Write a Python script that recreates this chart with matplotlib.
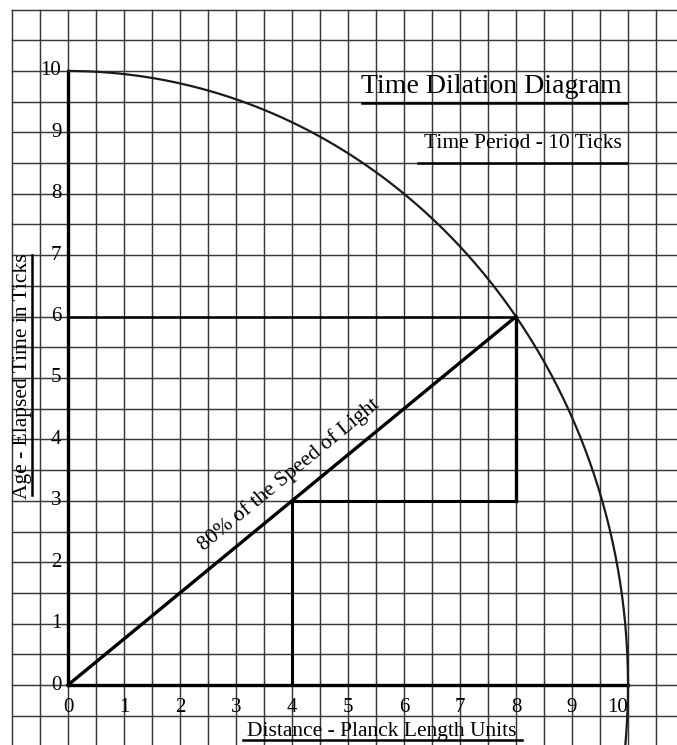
import numpy as np
import matplotlib
matplotlib.use("Agg")
import matplotlib.pyplot as plt

plt.rcParams['font.family'] = ['Liberation Serif', 'DejaVu Serif']

# data
x_ticks = [0, 1, 2, 3, 4, 5, 6, 7, 8, 9, 10]
y_ticks = [0, 1, 2, 3, 4, 5, 6, 7, 8, 9, 10]
radius = 10
speed_pt = (8, 6)      # 80% of light speed after 10 ticks
half_pt = (4, 3)       # half way
title = "Time Dilation Diagram"
subtitle = "Time Period - 10 Ticks"
xlabel = "Distance - Planck Length Units"
ylabel = "Age - Elapsed Time in Ticks"
diag_label = "80% of the Speed of Light"

fig = plt.figure(figsize=(6.77, 7.45), dpi=100)
ax = fig.add_axes([0, 0, 1, 1])
ax.set_xlim(-1.214, 10.875)
ax.set_ylim(-0.977, 11.156)
ax.axis('off')

grid_col = '#383838'
# graph paper grid, every half unit
for gx in np.arange(-1, 10.75, 0.5):
    ax.plot([gx, gx], [-1.2, 11], color=grid_col, lw=1.05, zorder=1)
for gy in np.arange(-1, 11.25, 0.5):
    ax.plot([-1, 11], [gy, gy], color=grid_col, lw=1.05, zorder=1)

# axes
ax.plot([0, 0], [0, 10], color='black', lw=2.4, zorder=3)
ax.plot([0, 10], [0, 0], color='black', lw=2.4, zorder=3)

# arc of radius 10 (continues down past the x axis)
t = np.linspace(np.arcsin(-1.2 / radius), np.pi / 2, 300)
ax.plot(radius * np.cos(t), radius * np.sin(t), color='#1a1a1a', lw=1.6, zorder=3)

sx, sy = speed_pt
hx, hy = half_pt
ax.plot([0, sx], [0, sy], color='black', lw=2.4, zorder=3)
ax.plot([0, sx], [sy, sy], color='black', lw=1.8, zorder=3)
ax.plot([sx, sx], [sy, hy], color='black', lw=2.4, zorder=3)
ax.plot([hx, sx], [hy, hy], color='black', lw=2.2, zorder=3)
ax.plot([hx, hx], [hy, 0], color='black', lw=2.2, zorder=3)

# tick labels
for v in y_ticks:
    ax.text(-0.12, v, str(v), ha='right', va='center', fontsize=15, zorder=4)
for v in x_ticks:
    ax.text(v, -0.36, str(v), ha='right' if v == x_ticks[-1] else 'center',
            va='center', fontsize=15, zorder=4)

# diagonal label
ang = np.degrees(np.arctan2(sy, sx))
ax.text(3.95, 3.42, diag_label, rotation=ang, transform_rotates_text=True,
        rotation_mode='anchor', ha='center', va='center', fontsize=15.5, zorder=4)

# titles with underlines
ax.text(9.89, 9.64, title, ha='right', va='baseline', fontsize=20, zorder=4)
ax.plot([5.25, 9.98], [9.48, 9.48], color='black', lw=1.8, zorder=3)
ax.text(9.89, 8.75, subtitle, ha='right', va='baseline', fontsize=15.5, zorder=4)
ax.plot([6.25, 9.98], [8.5, 8.5], color='black', lw=1.8, zorder=3)

# axis labels with underlines
ax.text(3.2, -0.83, xlabel, ha='left', va='baseline', fontsize=15.5, zorder=4)
ax.plot([3.125, 8.1], [-0.896, -0.896], color='black', lw=1.8, zorder=3)
ax.text(-0.73, 5.03, ylabel, rotation=90, ha='center', va='baseline',
        rotation_mode='anchor', fontsize=15.5, zorder=4)
ax.plot([-0.643, -0.643], [3.09, 7.0], color='black', lw=1.8, zorder=3)

fig.savefig('out.png', dpi=100)
